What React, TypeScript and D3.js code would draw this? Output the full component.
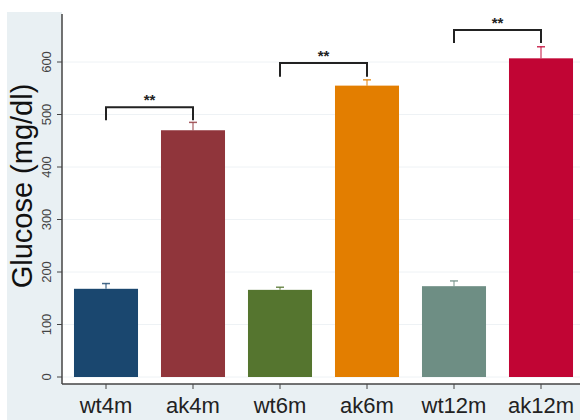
import React from "react";
import * as d3 from "d3";

const categories = ["wt4m", "ak4m", "wt6m", "ak6m", "wt12m", "ak12m"];
const means = [168, 470, 166, 555, 173, 607];
const errUpper = [178, 485, 171, 566, 183, 629];
const barColors = ["#1a476f", "#90353b", "#55752f", "#e37e00", "#6e8e84", "#c10534"];
const yTicks = [0, 100, 200, 300, 400, 500, 600];
const brackets = [
  { from: "wt4m", to: "ak4m", top: 514, leg: 489, label: "**" },
  { from: "wt6m", to: "ak6m", top: 598, leg: 572, label: "**" },
  { from: "wt12m", to: "ak12m", top: 661, leg: 636, label: "**" },
];

const W = 580;
const H = 420;
const plotLeft = 62;
const plotRight = 580;
const plotTop = 12;
const axisY = 384;

export default function App() {
  const x = d3
    .scaleBand<string>()
    .domain(categories)
    .range([62.5, 584.5])
    .paddingInner(0.264)
    .paddingOuter(0.132);
  const y = d3.scaleLinear().domain([0, 600]).range([377, 62]);
  const cx = (c: string) => (x(c) as number) + x.bandwidth() / 2;
  const font = "Liberation Sans, Arial, Helvetica, sans-serif";

  return (
    <svg width={W} height={H} style={{ position: "absolute", left: 0, top: 0 }}>
      <rect x={0} y={0} width={W} height={H} fill="#ffffff" />
      <rect x={7} y={plotTop} width={W - 7} height={H - plotTop} fill="#e9f0f3" />
      <rect x={plotLeft} y={plotTop} width={plotRight - plotLeft} height={axisY - plotTop} fill="#ffffff" />
      {yTicks.map((t) => (
        <line key={"g" + t} x1={plotLeft} x2={plotRight} y1={y(t)} y2={y(t)} stroke="#eef2f5" strokeWidth={1} />
      ))}
      {categories.map((c, i) => (
        <g key={c}>
          <rect x={x(c)} y={y(means[i])} width={x.bandwidth()} height={y(0) - y(means[i])} fill={barColors[i]} />
          <line x1={cx(c)} x2={cx(c)} y1={y(means[i])} y2={y(errUpper[i])} stroke={barColors[i]} strokeWidth={1.2} opacity={0.8} />
          <line x1={cx(c) - 4} x2={cx(c) + 4} y1={y(errUpper[i])} y2={y(errUpper[i])} stroke={barColors[i]} strokeWidth={1.5} opacity={0.8} />
        </g>
      ))}
      {brackets.map((b, i) => {
        const x1 = cx(b.from);
        const x2 = cx(b.to);
        return (
          <g key={"b" + i}>
            <path
              d={`M${x1},${y(b.leg)}V${y(b.top)}H${x2}V${y(b.leg)}`}
              fill="none"
              stroke="#222"
              strokeWidth={2}
            />
            <text x={(x1 + x2) / 2} y={y(b.top) - 2} textAnchor="middle" fontFamily={font} fontSize={15} fontWeight="bold" fill="#222">
              {b.label}
            </text>
          </g>
        );
      })}
      <line x1={plotLeft} x2={plotLeft} y1={plotTop + 2} y2={axisY} stroke="#444" strokeWidth={1.5} />
      <line x1={plotLeft} x2={plotRight} y1={axisY} y2={axisY} stroke="#444" strokeWidth={1.5} />
      {yTicks.map((t) => (
        <g key={"t" + t}>
          <line x1={plotLeft - 5} x2={plotLeft} y1={y(t)} y2={y(t)} stroke="#444" strokeWidth={1} />
          <text
            transform={`translate(${51},${y(t)}) rotate(-90)`}
            textAnchor="middle"
            fontFamily={font}
            fontSize={13}
            fill="#444"
          >
            {t}
          </text>
        </g>
      ))}
      {categories.map((c) => (
        <g key={"x" + c}>
          <line x1={cx(c)} x2={cx(c)} y1={axisY} y2={axisY + 5} stroke="#444" strokeWidth={1} />
          <text x={cx(c)} y={413} textAnchor="middle" fontFamily={font} fontSize={22} fill="#222">
            {c}
          </text>
        </g>
      ))}
      <text
        transform={`translate(${32},${186}) rotate(-90)`}
        textAnchor="middle"
        fontFamily={font}
        fontSize={29}
        fill="#111"
      >
        Glucose (mg/dl)
      </text>
    </svg>
  );
}
